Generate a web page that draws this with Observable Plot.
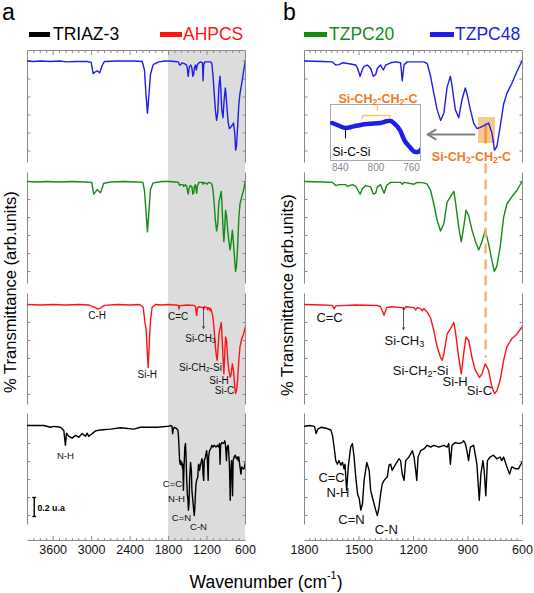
<!DOCTYPE html>
<html><head><meta charset="utf-8">
<script src="https://cdn.jsdelivr.net/npm/d3@7"></script>
<script src="https://cdn.jsdelivr.net/npm/@observablehq/plot@0.6"></script>
<style>
body{margin:0;background:#fff;}
#fig{position:relative;width:534px;height:593px;font-family:"Liberation Sans",Arial,sans-serif;overflow:hidden;background:#fff;}
#fig > *{position:absolute;}
.t{white-space:nowrap;line-height:1;}
</style></head><body><div id="fig"></div>
<script>
// ---------------- DATA ----------------
const sampleNames = ["TZPC48", "TZPC20", "AHPCS", "TRIAZ-3"];
const sampleColors = ["#1e1ee8", "#148c14", "#ff1414", "#000000"];
// [wavenumber cm-1, relative transmittance (1 = baseline)]
const tzpc48 = [[4000,1.0],[3900,0.995],[3800,1.0],[3642,0.995],[3500,1.0],[3381,0.99],[3250,0.995],[3069,0.995],[3007,0.985],[2976,0.86],[2951,0.875],[2913,0.89],[2873,0.87],[2835,0.95],[2800,0.995],[2601,1.0],[2343,1.0],[2211,0.995],[2176,0.90],[2149,0.60],[2129,0.42],[2109,0.60],[2082,0.85],[2040,0.96],[1953,0.99],[1850,1.0],
[1800,1.0],[1700,0.995],[1646,0.99],[1628,0.955],[1610,0.96],[1591,0.98],[1554,0.97],[1518,0.955],[1508,0.92],[1494,0.83],[1481,0.91],[1472,0.94],[1454,0.955],[1436,0.92],[1421,0.83],[1408,0.85],[1399,0.92],[1381,0.955],[1366,0.90],[1353,0.955],[1326,0.98],[1298,0.99],[1271,0.98],[1262,0.78],[1252,0.96],[1234,0.99],[1143,0.99],[1124,0.97],[1106,0.83],[1088,0.64],[1070,0.46],[1051,0.34],[1033,0.42],[1015,0.71],[997,0.83],[988,0.73],[970,0.46],[951,0.37],[933,0.57],[915,0.70],[906,0.64],[887,0.46],[869,0.31],[851,0.25],[834,0.26],[805,0.29],[787,0.31],[768,0.20],[754,0.01],[741,0.05],[723,0.27],[704,0.52],[686,0.64],[659,0.75],[631,0.88],[603,1.0]];
const tzpc20 = [[4000,1.0],[3850,0.995],[3700,1.0],[3500,0.995],[3300,1.0],[3100,0.995],[2998,0.99],[2967,0.86],[2913,0.91],[2862,0.875],[2810,0.98],[2700,0.995],[2500,1.0],[2300,0.995],[2200,0.99],[2176,0.90],[2149,0.64],[2129,0.44],[2109,0.64],[2082,0.91],[2040,0.985],[1900,1.0],
[1800,1.0],[1700,0.995],[1646,0.99],[1628,0.955],[1610,0.965],[1573,0.965],[1564,0.945],[1536,0.965],[1518,0.945],[1505,0.90],[1494,0.86],[1481,0.92],[1463,0.955],[1436,0.94],[1421,0.86],[1408,0.87],[1399,0.94],[1381,0.965],[1362,0.87],[1348,0.955],[1326,0.99],[1271,0.99],[1262,0.97],[1252,0.99],[1197,0.97],[1179,0.99],[1143,0.985],[1124,0.97],[1106,0.90],[1088,0.75],[1070,0.57],[1051,0.45],[1033,0.53],[1015,0.77],[997,0.83],[978,0.89],[970,0.79],[951,0.49],[937,0.33],[924,0.49],[911,0.68],[896,0.62],[878,0.46],[860,0.34],[841,0.24],[823,0.33],[805,0.46],[787,0.31],[768,0.12],[755,0.0],[741,0.06],[723,0.27],[704,0.60],[686,0.75],[659,0.83],[631,0.90],[603,1.0]];
const ahpcs = [[4000,1.0],[3800,0.995],[3600,1.0],[3400,0.995],[3200,1.0],[3050,0.995],[2990,0.98],[2940,0.965],[2913,0.95],[2862,0.96],[2800,0.99],[2600,1.0],[2400,0.995],[2250,1.0],[2196,0.97],[2171,0.82],[2149,0.71],[2133,0.49],[2118,0.30],[2098,0.60],[2082,0.82],[2056,0.97],[2004,1.0],[1900,0.995],
[1800,1.0],[1700,0.995],[1646,0.99],[1637,0.95],[1628,0.985],[1518,0.995],[1400,0.99],[1381,0.975],[1362,0.88],[1348,0.965],[1326,0.975],[1262,0.965],[1252,0.945],[1243,0.975],[1197,0.965],[1188,0.94],[1179,0.965],[1161,0.955],[1152,0.93],[1143,0.955],[1124,0.915],[1106,0.85],[1088,0.71],[1070,0.53],[1051,0.41],[1042,0.38],[1033,0.45],[1015,0.67],[997,0.73],[978,0.80],[970,0.71],[951,0.41],[937,0.23],[924,0.45],[911,0.64],[896,0.60],[878,0.41],[860,0.27],[837,0.19],[823,0.23],[805,0.34],[787,0.27],[768,0.08],[754,0.01],[741,0.04],[723,0.16],[704,0.38],[686,0.53],[659,0.62],[631,0.67],[603,0.75]];
const triaz3 = [[4000,1.0],[3850,1.0],[3746,1.0],[3642,0.98],[3590,0.99],[3486,0.98],[3434,0.945],[3408,0.78],[3392,0.915],[3356,0.88],[3303,0.86],[3252,0.89],[3200,0.87],[3148,0.91],[3096,0.88],[3070,0.915],[3044,0.88],[2991,0.91],[2940,0.94],[2862,0.95],[2706,0.96],[2550,0.975],[2342,0.96],[2238,0.98],[2133,0.98],[1977,0.98],[1821,0.99],
[1800,0.99],[1773,1.0],[1745,0.99],[1736,0.91],[1727,0.96],[1709,0.98],[1682,0.97],[1655,0.95],[1646,0.89],[1637,0.76],[1628,0.61],[1619,0.57],[1610,0.61],[1600,0.56],[1591,0.59],[1582,0.52],[1577,0.57],[1568,0.28],[1559,0.54],[1546,0.76],[1536,0.80],[1527,0.65],[1518,0.43],[1508,0.24],[1499,0.19],[1490,0.06],[1481,0.13],[1472,0.39],[1457,0.59],[1444,0.50],[1436,0.28],[1426,0.20],[1417,0.13],[1408,0.06],[1399,0.00],[1390,0.09],[1381,0.24],[1372,0.35],[1362,0.39],[1344,0.43],[1335,0.56],[1326,0.57],[1317,0.50],[1307,0.54],[1298,0.57],[1280,0.63],[1271,0.61],[1262,0.46],[1252,0.39],[1243,0.61],[1225,0.65],[1206,0.72],[1197,0.65],[1188,0.50],[1182,0.39],[1175,0.65],[1161,0.72],[1143,0.74],[1124,0.78],[1106,0.76],[1088,0.78],[1060,0.76],[1033,0.78],[1015,0.76],[1006,0.80],[997,0.57],[988,0.78],[970,0.81],[951,0.80],[933,0.81],[924,0.83],[915,0.80],[906,0.72],[897,0.61],[887,0.76],[869,0.78],[851,0.57],[838,0.17],[829,0.46],[818,0.61],[811,0.50],[802,0.22],[793,0.61],[778,0.65],[760,0.67],[741,0.63],[723,0.65],[714,0.61],[704,0.65],[686,0.54],[671,0.46],[659,0.54],[640,0.52],[622,0.52],[603,0.59]];
// inset: TZPC48 between 850 and 750 cm-1 (relative units)
const insetTzpc48 = [[849,0.67],[842,0.625],[834,0.58],[825,0.61],[816,0.64],[807,0.655],[795,0.67],[788,0.70],[784,0.71],[779,0.655],[773,0.54],[768,0.36],[762,0.24],[757,0.16],[753,0.15],[749,0.21]];
const ticksA = [3600, 3000, 2400, 1800, 1200, 600];
const ticksB = [1800, 1500, 1200, 900, 600];
const insetTicks = [840, 800, 760];
const siCH2CH2C = 803; // cm-1, marked band

// ---------------- LAYOUT ----------------
const FONT = "Liberation Sans, Arial, sans-serif";
const FRAME = "#8a8a8a";
const U = 90;                    // px per unit of transmittance
const TOP = 490 / U;
const toU = y => (540 - y) / U;  // pixel row -> plot units
const boxes = [
  {base: toU(60.5), lo: toU(162), hi: toU(50)},
  {base: toU(181), lo: toU(283), hi: toU(172)},
  {base: toU(304), lo: toU(404), hi: toU(293)},
  {base: toU(425), lo: toU(524), hi: toU(413)}
];
const series = [tzpc48, tzpc20, ahpcs, triaz3];
const fmt = d3.format("d");

function frameSegs(x0, x1, ticks, step) {
  const w = (x0 - x1) / 218, segs = [];
  segs.push({a: x0, b: TOP, c: x1, d: TOP}, {a: x0, b: 0, c: x1, d: 0});
  for (const bx of boxes) {
    segs.push({a: x0, b: bx.lo, c: x0, d: bx.hi}, {a: x1, b: bx.lo, c: x1, d: bx.hi});
    for (let k = 0; k < 6; k++) {
      const yy = bx.base - 0.2 * k;
      segs.push({a: x0, b: yy, c: x0 - 3 * w, d: yy}, {a: x1, b: yy, c: x1 + 3 * w, d: yy});
    }
  }
  for (let v = x1 + step; v < x0 - 1e-6; v += step) {
    const len = (ticks.includes(v) ? 4.5 : 2.5) / U;
    segs.push({a: v, b: TOP, c: v, d: TOP - len}, {a: v, b: 0, c: v, d: len});
  }
  return segs;
}
const link = (data, opts) => Plot.link(data, {x1: "a", y1: "b", x2: "c", y2: "d", ...opts});
const txt = (data, opts) => Plot.text(data, {x: "x", y: "y", text: "t", textAnchor: "middle", lineAnchor: "middle", ...opts});

function panel({x0, x1, ml, mr, ticks, step, before = [], after = []}) {
  const lines = series.map((s, i) => Plot.line(s.filter(d => d[0] <= x0 && d[0] >= x1), {
    x: d => d[0], y: d => boxes[i].base - 1 + d[1], stroke: sampleColors[i], strokeWidth: 1.4, clip: true
  }));
  return Plot.plot({
    width: 267, height: 593, marginLeft: ml, marginRight: mr, marginTop: 50, marginBottom: 53,
    x: {domain: [x0, x1]}, y: {domain: [0, TOP], axis: null},
    style: {fontFamily: FONT, background: "transparent", overflow: "visible"},
    marks: [
      ...before,
      link(frameSegs(x0, x1, ticks, step), {stroke: FRAME, strokeWidth: 1}),
      ...lines,
      Plot.axisX(ticks, {tickSize: 0, tickPadding: 5, fontSize: 12.5, color: "#111", label: null, tickFormat: fmt}),
      ...after
    ]
  });
}

// panel a annotations
const annA = [{t: "C-H", x: 2913, y: toU(315)}, {t: "Si-H", x: 2133, y: toU(374)}, {t: "C=C", x: 1650, y: toU(316)},
  {t: "Si-CH_3", x: 1302, y: toU(338)}, {t: "Si-CH_2-Si", x: 1302, y: toU(367)}, {t: "Si-H", x: 1013, y: toU(380)}, {t: "Si-C", x: 928, y: toU(390)}];
const annA2 = [{t: "N-H", x: 3408, y: toU(455)}, {t: "C=C", x: 1739, y: toU(483)}, {t: "N-H", x: 1676, y: toU(498)},
  {t: "C=N", x: 1598, y: toU(517)}, {t: "C-N", x: 1333, y: toU(526.5)}];
const panelA = panel({
  x0: 4000, x1: 600, ml: 27, mr: 22, ticks: ticksA, step: 100,
  before: [Plot.rect([{a: 1800, c: 600}], {x1: "a", x2: "c", y1: () => 0, y2: () => TOP, fill: "#dcdcdc"})],
  after: [
    Plot.arrow([{a: 1255, b: toU(307), c: 1255, d: toU(328)}], {x1: "a", y1: "b", x2: "c", y2: "d", stroke: "#333", strokeWidth: 0.8, headLength: 4}),
    txt(annA, {fontSize: 10, fill: "#111"}),
    txt(annA2, {fontSize: 9.6, fill: "#111"}),
    link([{a: 3895, b: toU(497), c: 3895, d: toU(516)}, {a: 3925, b: toU(497), c: 3865, d: toU(497)}, {a: 3925, b: toU(516), c: 3865, d: toU(516)}], {stroke: "#000", strokeWidth: 1.4}),
    Plot.text([{t: "0.2 u.a", x: 3845, y: toU(508)}], {x: "x", y: "y", text: "t", textAnchor: "start", lineAnchor: "middle", fontSize: 8.8, fontWeight: "bold", fill: "#000"})
  ]
});

// panel b annotations
const annB = [{t: "C=C", x: 1662, y: toU(317)}, {t: "Si-CH_3", x: 1250, y: toU(340)}, {t: "Si-CH_2-Si", x: 1161, y: toU(370)},
  {t: "Si-H", x: 971, y: toU(381.5)}, {t: "Si-C", x: 837, y: toU(390)},
  {t: "C=C", x: 1651, y: toU(477)}, {t: "N-H", x: 1616, y: toU(492)}, {t: "C=N", x: 1541, y: toU(519.5)}, {t: "C-N", x: 1350, y: toU(529.5)}];
const panelB = panel({
  x0: 1800, x1: 600, ml: 37, mr: 12, ticks: ticksB, step: 30,
  before: [
    Plot.rect([{a: 842, c: 749}], {x1: "a", x2: "c", y1: () => toU(143), y2: () => toU(117), fill: "#f8c285", fillOpacity: 0.9}),
    link([{a: siCH2CH2C, b: toU(123), c: siCH2CH2C, d: toU(143)}], {stroke: "#f29a45", strokeWidth: 3})
  ],
  after: [
    Plot.arrow([{a: 864, b: toU(134), c: 1123, d: toU(134)}], {x1: "a", y1: "b", x2: "c", y2: "d", stroke: "#808080", strokeWidth: 2, headLength: 7}),
    link([{a: siCH2CH2C, b: toU(163), c: siCH2CH2C, d: toU(357)}], {stroke: "#f7b277", strokeWidth: 2.5, strokeDasharray: "10,6"}),
    Plot.arrow([{a: 1255, b: toU(307), c: 1255, d: toU(329)}], {x1: "a", y1: "b", x2: "c", y2: "d", stroke: "#333", strokeWidth: 0.8, headLength: 4}),
    txt(annB, {fontSize: 13, fill: "#111"}),
    txt([{t: "Si-CH_2-CH_2-C", x: 881, y: toU(156)}], {fontSize: 12.5, fontWeight: "bold", fill: "#f47a20"})
  ]
});

// inset (x: cm-1, y: relative units 0..1 over the inset box)
const inset = Plot.plot({
  width: 90, height: 70, margin: 0, marginBottom: 14,
  x: {domain: [851, 750]}, y: {domain: [0, 1], axis: null},
  style: {fontFamily: FONT, background: "transparent", overflow: "visible"},
  marks: [
    Plot.frame({stroke: "#a6a8bd"}),
    Plot.line(insetTzpc48, {x: d => d[0], y: d => d[1], stroke: sampleColors[0], strokeWidth: 4.5, curve: "monotone-x", clip: true}),
    Plot.axisX(insetTicks, {tickSize: 0, tickPadding: 3, fontSize: 10, color: "#8a8a8a", label: null, tickFormat: fmt}),
    link([{a: 815, b: 0.804, c: 784, d: 0.804}, {a: 815, b: 0.804, c: 815, d: 0.74}, {a: 784, b: 0.804, c: 784, d: 0.74}, {a: 798.3, b: 1.0, c: 798.3, d: 0.89}], {stroke: "#f3c66b", strokeWidth: 1.5}),
    link([{a: 834.2, b: 0.571, c: 834.2, d: 0.393}], {stroke: "#000", strokeWidth: 1}),
    txt([{t: "Si-C-Si", x: 827.4, y: 0.143}], {fontSize: 12, fill: "#000"}),
    txt([{t: "Si-CH_2-CH_2-C", x: 797.7, y: 1.107}], {fontSize: 12.5, fontWeight: "bold", fill: "#f47a20"})
  ]
});

function subscripts(root) {
  root.querySelectorAll("text").forEach(t => {
    if (t.children.length) return;
    const s = t.textContent;
    if (!/_\d/.test(s)) return;
    const parts = s.split(/_(\d)/);
    t.textContent = "";
    parts.forEach((p, i) => {
      if (!p) return;
      const ts = document.createElementNS("http://www.w3.org/2000/svg", "tspan");
      if (i % 2 === 1) { ts.setAttribute("dy", "0.25em"); ts.setAttribute("font-size", "70%"); }
      else if (i > 0) ts.setAttribute("dy", "-0.175em");
      ts.textContent = p;
      t.appendChild(ts);
    });
  });
}

const fig = document.getElementById("fig");
function put(node, left, top) { node.style.left = left + "px"; node.style.top = top + "px"; fig.appendChild(node); return node; }
[panelA, panelB, inset].forEach(subscripts);
put(panelA, 0, 0);
put(panelB, 267, 0);
put(inset, 330, 104);

function label(html, left, top, css = "") {
  const d = document.createElement("div");
  d.className = "t"; d.innerHTML = html; d.style.cssText = css;
  return put(d, left, top);
}
function swatch(left, width, color) {
  const d = document.createElement("div");
  d.style.cssText = `width:${width}px;height:5px;background:${color};`;
  return put(d, left, 31.5);
}
label("a", 2, 0.5, "font-size:23px;");
label("b", 283, 0.5, "font-size:23px;");
swatch(29, 21, sampleColors[3]); label(sampleNames[3], 53, 25.5, `font-size:17.5px;color:${sampleColors[3]}`);
swatch(160, 22, sampleColors[2]); label(sampleNames[2], 183, 25.5, `font-size:17.5px;color:${sampleColors[2]}`);
swatch(304, 23, sampleColors[1]); label(sampleNames[1], 329, 25.5, `font-size:17.5px;color:${sampleColors[1]}`);
swatch(430, 24, sampleColors[0]); label(sampleNames[0], 455, 25.5, `font-size:17.5px;color:${sampleColors[0]}`);
const yl = "% Transmittance (arb.units)";
label(yl, 10, 292, "font-size:16.5px;padding:0 1px;transform:translate(-50%,-50%) rotate(-90deg);");
label(yl, 287, 295, "font-size:16.5px;padding:0 1px;transform:translate(-50%,-50%) rotate(-90deg);");
label('Wavenumber (cm<span style="font-size:0.62em;position:relative;top:-0.8em">-1</span>)', 266, 574, "font-size:17.5px;transform:translateX(-50%);");
</script></body></html>
